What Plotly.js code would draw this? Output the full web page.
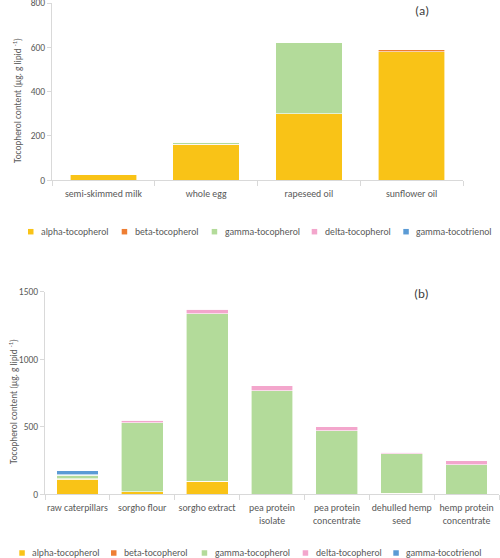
<!DOCTYPE html>
<html>
<head>
<meta charset="utf-8">
<script src="https://cdn.plot.ly/plotly-3.0.1.min.js"></script>
<style>
  html, body { margin: 0; padding: 0; background: #fff; }
  #chart { width: 500px; height: 558px; }
</style>
</head>
<body>
<div id="chart"></div>
<script>
// Panel (a): food matrices
const catsA = ['semi-skimmed milk', 'whole egg', 'rapeseed oil', 'sunflower oil'];
const alphaA = [25, 160, 300, 580];
const betaA = [0, 3, 0, 12];
const gammaA = [0, 9, 320, 0];
const deltaA = [0, 0, 0, 0];
const tocotrienolA = [0, 2, 0, 0];

// Panel (b): alternative protein sources
const catsB = ['raw caterpillars', 'sorgho flour', 'sorgho extract', 'pea protein<br>isolate',
  'pea protein<br>concentrate', 'dehulled hemp<br>seed', 'hemp protein<br>concentrate'];
const alphaB = [110, 20, 98, 0, 0, 8, 0];
const betaB = [5, 0, 0, 0, 0, 0, 0];
const gammaB = [27, 510, 1238, 765, 469, 293, 217];
const deltaB = [2, 18, 34, 37, 30, 12, 30];
const tocotrienolB = [31, 0, 0, 0, 0, 0, 0];

const seriesNames = ['alpha-tocopherol', 'beta-tocopherol', 'gamma-tocopherol', 'delta-tocopherol', 'gamma-tocotrienol'];
const seriesColors = ['#F9C317', '#EE7E33', '#B3DB9A', '#F3A6CC', '#5B9BD5'];

const FONT = 'Carlito, Lato, "Open Sans", sans-serif';
const GREY = '#595959';
const W = 500, H = 558;

function makeTraces(cats, values, xa, ya) {
  return values.map((v, i) => ({
    type: 'bar',
    x: cats,
    y: v,
    name: seriesNames[i],
    xaxis: xa,
    yaxis: ya,
    showlegend: false,
    marker: { color: seriesColors[i], line: { color: '#ffffff', width: 0.6 } },
    hoverinfo: 'x+y+name'
  }));
}

const traces = [
  ...makeTraces(catsA, [alphaA, betaA, gammaA, deltaA, tocotrienolA], 'x', 'y'),
  ...makeTraces(catsB, [alphaB, betaB, gammaB, deltaB, tocotrienolB], 'x2', 'y2')
];

function xAxis(domain, anchor) {
  return {
    domain: domain, anchor: anchor,
    showline: true, linecolor: '#d9d9d9', linewidth: 1,
    ticks: 'outside', tickson: 'boundaries', ticklen: 5, tickcolor: '#d9d9d9',
    tickangle: 0, ticklabelstandoff: 4,
    showgrid: false, zeroline: false,
    tickfont: { family: FONT, size: 9.8, color: GREY },
    fixedrange: true
  };
}
function yAxis(domain, anchor, range, dtick) {
  return {
    domain: domain, anchor: anchor, range: range, dtick: dtick,
    showline: true, linecolor: '#d9d9d9', linewidth: 1,
    ticks: 'outside', ticklen: 4, tickcolor: '#d9d9d9',
    ticklabeloverflow: 'allow',
    showgrid: false, zeroline: false,
    tickfont: { family: FONT, size: 9.5, color: GREY },
    fixedrange: true
  };
}

// Legend rows drawn as swatch + label pairs (pixel positions of each swatch's left edge)
const legendRows = [
  { y: 231.7, swatchX: [28, 121.7, 211.7, 311.7, 403.3], gap: 7.5 },
  { y: 553, swatchX: [19.3, 111, 201.7, 302.7, 393.3], gap: 7.5 }
];
const SW = 5.5;

const shapes = [];
const annotations = [];
legendRows.forEach(row => {
  row.swatchX.forEach((sx, i) => {
    shapes.push({
      type: 'rect', xref: 'paper', yref: 'paper', layer: 'above',
      x0: sx / W, x1: (sx + SW) / W,
      y0: (H - (row.y + SW / 2)) / H, y1: (H - (row.y - SW / 2)) / H,
      fillcolor: seriesColors[i], line: { width: 0 }
    });
    annotations.push({
      text: seriesNames[i], xref: 'paper', yref: 'paper',
      x: (sx + SW + row.gap - 2) / W, xanchor: 'left',
      y: (H - row.y) / H, yanchor: 'middle',
      showarrow: false, font: { family: FONT, size: 9.7, color: GREY }
    });
  });
});

// Panel labels and vertical axis titles
const yTitle = 'Tocopherol content (µg. g lipid <sup>-1</sup>)';
annotations.push(
  { text: '(a)', xref: 'paper', yref: 'paper', x: 421.5 / W, y: (H - 10.5) / H,
    xanchor: 'center', yanchor: 'middle',
    showarrow: false, font: { family: FONT, size: 13, color: '#404040' } },
  { text: '(b)', xref: 'paper', yref: 'paper', x: 421.5 / W, y: (H - 293) / H,
    xanchor: 'center', yanchor: 'middle',
    showarrow: false, font: { family: FONT, size: 13, color: '#404040' } },
  { text: yTitle, xref: 'paper', yref: 'paper', x: 17 / W, y: (H - 101) / H, textangle: -90,
    xanchor: 'center', yanchor: 'middle',
    showarrow: false, font: { family: FONT, size: 9.3, color: GREY } },
  { text: yTitle, xref: 'paper', yref: 'paper', x: 13 / W, y: (H - 402) / H, textangle: -90,
    xanchor: 'center', yanchor: 'middle',
    showarrow: false, font: { family: FONT, size: 9.3, color: GREY } }
);

const layout = {
  width: W, height: H,
  margin: { l: 0, r: 0, t: 0, b: 0 },
  paper_bgcolor: '#ffffff', plot_bgcolor: '#ffffff',
  barmode: 'stack', bargap: 0.355,
  showlegend: false,
  font: { family: FONT, color: GREY },
  xaxis: xAxis([52 / W, 463 / W], 'y'),
  yaxis: yAxis([(H - 180.3) / H, (H - 3) / H], 'x', [0, 800], 200),
  xaxis2: xAxis([45 / W, 499 / W], 'y2'),
  yaxis2: yAxis([(H - 494.3) / H, (H - 291.7) / H], 'x2', [0, 1500], 500),
  shapes: shapes,
  annotations: annotations
};

Plotly.newPlot('chart', traces, layout, { displayModeBar: false, staticPlot: true });
</script>
</body>
</html>
